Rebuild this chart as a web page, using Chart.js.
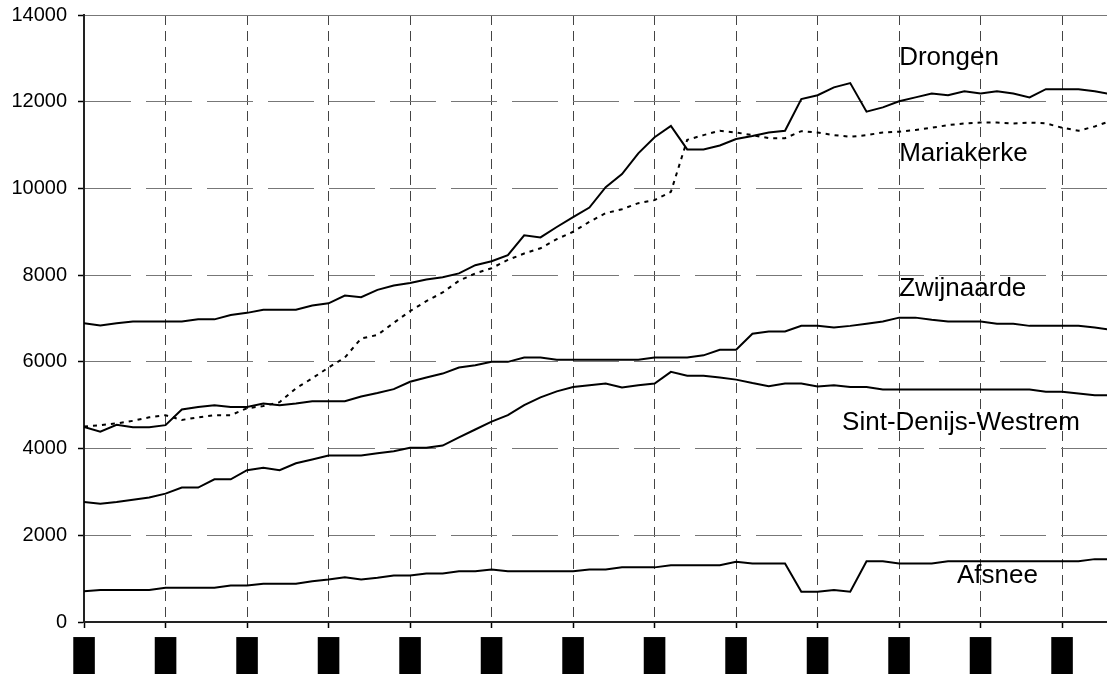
<!DOCTYPE html>
<html>
<head>
<meta charset="utf-8">
<script src="https://cdn.jsdelivr.net/npm/chart.js@4"></script>
<style>
  html, body { margin: 0; padding: 0; background: #fff; overflow: hidden; }
  #wrap { width: 1107px; height: 674px; position: relative; }
</style>
</head>
<body>
<div id="wrap"><canvas id="popChart"></canvas></div>
<script>
// yearly population per deelgemeente (x = period index, tick every 5)
const drongen = [6890, 6840, 6890, 6930, 6930, 6930, 6930, 6980, 6980, 7080,
    7130, 7200, 7200, 7200, 7300, 7350, 7530, 7490, 7660, 7760,
    7820, 7900, 7950, 8040, 8230, 8320, 8460, 8920, 8870, 9110,
    9340, 9560, 10030, 10330, 10810, 11180, 11440, 10900, 10900, 10990,
    11140, 11210, 11290, 11330, 12060, 12150, 12330, 12430, 11770, 11870,
    12010, 12100, 12190, 12150, 12240, 12190, 12240, 12190, 12100, 12290,
    12290, 12290, 12240, 12170];
const mariakerke = [4510, 4540, 4580, 4640, 4720, 4770, 4660, 4720, 4770, 4770,
    4930, 4980, 5070, 5390, 5620, 5870, 6100, 6540, 6620, 6900,
    7170, 7400, 7600, 7870, 8040, 8160, 8350, 8500, 8620, 8830,
    9000, 9230, 9430, 9520, 9660, 9730, 9920, 11120, 11230, 11330,
    11290, 11230, 11160, 11160, 11320, 11290, 11230, 11190, 11230, 11290,
    11310, 11350, 11400, 11460, 11500, 11520, 11520, 11500, 11520, 11500,
    11400, 11330, 11430, 11560];
const zwijnaarde = [4500, 4390, 4550, 4490, 4490, 4540, 4900, 4960, 5000, 4960,
    4960, 5040, 5000, 5040, 5090, 5090, 5090, 5200, 5280, 5370,
    5540, 5640, 5730, 5870, 5920, 6000, 6000, 6100, 6100, 6050,
    6050, 6050, 6050, 6050, 6050, 6100, 6100, 6100, 6150, 6280,
    6280, 6650, 6700, 6700, 6830, 6830, 6790, 6830, 6880, 6930,
    7020, 7020, 6970, 6930, 6930, 6930, 6880, 6880, 6830, 6830,
    6830, 6830, 6790, 6740];
const sintDenijs = [2770, 2730, 2770, 2820, 2870, 2960, 3100, 3100, 3290, 3290,
    3500, 3560, 3500, 3660, 3750, 3840, 3840, 3840, 3890, 3940,
    4020, 4020, 4070, 4260, 4440, 4620, 4770, 5000, 5180, 5320,
    5420, 5460, 5500, 5410, 5460, 5500, 5770, 5680, 5680, 5640,
    5590, 5510, 5440, 5500, 5500, 5430, 5460, 5420, 5420, 5360,
    5360, 5360, 5360, 5360, 5360, 5360, 5360, 5360, 5360, 5310,
    5310, 5270, 5230, 5230];
const afsnee = [710, 740, 740, 740, 740, 790, 790, 790, 790, 840,
    840, 880, 880, 880, 940, 980, 1030, 980, 1020, 1070,
    1070, 1120, 1120, 1170, 1170, 1210, 1170, 1170, 1170, 1170,
    1170, 1210, 1210, 1260, 1260, 1260, 1310, 1310, 1310, 1310,
    1390, 1350, 1350, 1350, 700, 700, 740, 700, 1400, 1400,
    1350, 1350, 1350, 1400, 1400, 1400, 1400, 1400, 1400, 1400,
    1400, 1400, 1450, 1450];

const seriesNames = ['Drongen', 'Mariakerke', 'Zwijnaarde', 'Sint-Denijs-Westrem', 'Afsnee'];
const yTicks = [0, 2000, 4000, 6000, 8000, 10000, 12000, 14000];
// the x labels came out as solid black blocks in the source
const xTickLabels = ['█', '█', '█', '█', '█', '█', '█', '█', '█', '█', '█', '█', '█'];

document.addEventListener('DOMContentLoaded', () => {
    const toPoints = arr => arr.map((v, i) => ({ x: i, y: v }));

    function lineSet(label, values, dashed) {
        return {
            label: label,
            data: toPoints(values),
            borderColor: '#000',
            borderWidth: 2,
            borderDash: dashed ? [4, 5] : [],
            pointRadius: 0,
            tension: 0,
            clip: 0
        };
    }

    // names written next to the lines, anchored in data coordinates
    const nameLabels = {
        id: 'nameLabels',
        afterDatasetsDraw(chart) {
            const { ctx, scales: { x, y } } = chart;
            const spots = [[50, 12850], [50, 10640], [50, 7520], [46.5, 4430], [53.55, 895]];
            ctx.save();
            ctx.font = '26px "Liberation Sans", Arial, sans-serif';
            ctx.fillStyle = '#000';
            ctx.textAlign = 'left';
            ctx.textBaseline = 'alphabetic';
            seriesNames.forEach((name, i) => {
                ctx.fillText(name, x.getPixelForValue(spots[i][0]), y.getPixelForValue(spots[i][1]));
            });
            ctx.restore();
        }
    };

    const ctx = document.getElementById('popChart').getContext('2d');
    new Chart(ctx, {
        type: 'line',
        data: {
            datasets: [
                lineSet(seriesNames[0], drongen, false),
                lineSet(seriesNames[1], mariakerke, true),
                lineSet(seriesNames[2], zwijnaarde, false),
                lineSet(seriesNames[3], sintDenijs, false),
                lineSet(seriesNames[4], afsnee, false)
            ]
        },
        options: {
            responsive: true,
            maintainAspectRatio: false,
            animation: false,
            layout: { padding: { top: 15, right: 0, bottom: 0, left: 0 } },
            plugins: {
                legend: { display: false },
                tooltip: { enabled: false }
            },
            scales: {
                x: {
                    type: 'linear',
                    min: 0,
                    max: 62.75,
                    afterFit: s => { s.height = 52; },
                    afterBuildTicks: s => { s.ticks = xTickLabels.map((_, i) => ({ value: i * 5 })); },
                    ticks: {
                        includeBounds: false,
                        autoSkip: false,
                        maxRotation: 0,
                        padding: 8,
                        color: '#000',
                        font: { family: '"Liberation Mono", "DejaVu Sans Mono", monospace', size: 36 },
                        callback: (v, i) => xTickLabels[i]
                    },
                    grid: {
                        color: '#444',
                        lineWidth: 1,
                        tickLength: 6,
                        tickColor: '#000',
                        tickBorderDash: [],
                        tickWidth: 1.5
                    },
                    border: { display: true, color: '#222', width: 2, dash: [10, 6] }
                },
                y: {
                    min: 0,
                    max: 14000,
                    afterFit: s => { s.width = 84; s.paddingTop = 0; s.paddingBottom = 0; },
                    afterBuildTicks: s => { s.ticks = yTicks.map(v => ({ value: v })); },
                    ticks: {
                        color: '#000',
                        padding: 11,
                        font: { family: '"Liberation Sans", Arial', size: 20 },
                        callback: v => String(v)
                    },
                    grid: {
                        color: '#777',
                        lineWidth: 1,
                        tickLength: 6,
                        tickColor: '#000',
                        tickBorderDash: [],
                        tickWidth: 1.5
                    },
                    border: {
                        display: true, color: '#222', width: 2,
                        dash: c => (c.tick && c.tick.value === 14000) ? [] : [46, 15]
                    }
                }
            }
        },
        plugins: [nameLabels]
    });
});
</script>
</body>
</html>
